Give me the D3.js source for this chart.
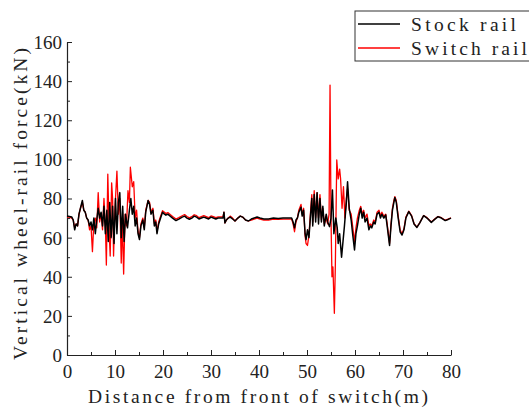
<!DOCTYPE html>
<html>
<head>
<meta charset="utf-8">
<script src="https://cdn.jsdelivr.net/npm/d3@7"></script>
<style>
  body { margin: 0; background: #fff; }
</style>
</head>
<body>
<svg width="529" height="407"></svg>
<script>
// distance (m), force (kN)
const stockRail = [
  [0,71],[0.5,70.8],[1,70.5],[1.3,69],[1.6,64],[1.9,67],[2.2,66],[2.5,72],[2.8,75],[3.2,79],
  [3.5,74],[3.8,73],[4.1,70],[4.4,69],[4.7,66],[5,68],[5.3,64],[5.6,70],[5.9,62],[6.2,69],
  [6.5,75],[6.8,70],[7.1,73],[7.4,66],[7.7,76],[8,62],[8.3,74],[8.6,58],[8.9,78],[9.2,60],
  [9.5,76],[9.8,57],[10.1,80],[10.4,62],[10.7,78],[11,83],[11.3,60],[11.6,76],[11.9,58],[12.2,72],
  [12.6,65],[13,74],[13.3,80],[13.6,72],[13.9,76],[14.2,66],[14.5,70],[14.8,62],[15.1,59],[15.4,66],
  [15.8,69],[16.1,64],[16.4,73],[16.9,79],[17.2,77],[17.5,72],[17.9,74],[18.2,66],[18.5,68],[18.75,62],
  [19.1,67],[19.5,70],[19.9,73],[20.3,72],[20.6,71.5],[21,72],[21.5,71],[22,70],[22.7,68.7],[23.3,69.5],
  [24,70.5],[24.5,71],[25,70],[25.5,69.4],[26,70],[26.5,71],[27,70.5],[27.5,69.5],[28,70],[28.5,70.5],
  [29,70],[29.5,69.5],[30,70.5],[30.5,70],[31,69.5],[31.5,70],[32,70],[32.5,70],[32.7,73],[32.9,67.5],
  [33.2,69],[33.6,70],[34,70.5],[34.5,69.5],[35,68.5],[35.6,70],[36.1,71],[36.6,70.5],[37.2,69],[37.8,68.5],
  [38.4,69.5],[39,70],[39.6,70.5],[40.2,70],[41,69.5],[42,69.5],[43,70],[44,69.8],[45,70],[46,70],
  [46.8,70],[47.1,68],[47.4,65],[47.7,69],[48,70],[48.3,73],[48.75,75.5],[49,71],[49.3,74],[49.6,62],
  [49.8,59],[50.1,64],[50.4,60],[50.7,70],[51,80],[51.2,66],[51.5,82],[51.8,68],[52.1,83],[52.4,67],
  [52.7,80],[53,68],[53.3,76],[53.6,66],[54,72],[54.3,68],[54.7,65.6],[55,70],[55.3,84.4],[55.6,62],
  [56,70],[56.3,65],[56.5,57],[56.8,62],[57.2,50],[57.5,58],[57.8,66],[58.2,78],[58.45,88.5],[58.8,75],
  [59.2,69],[59.5,62],[59.9,53.7],[60.2,62],[60.5,66],[60.9,72],[61.2,75],[61.5,70],[61.8,73],[62.1,68],
  [62.5,70],[62.9,64],[63.2,66],[63.5,65],[63.9,68],[64.2,67],[64.6,72],[65,73],[65.3,70],[65.6,72],
  [66,70],[66.4,71.6],[66.7,66],[67,60],[67.2,56],[67.5,66],[67.8,74],[68.1,78],[68.3,80.5],[68.6,78],
  [69,70],[69.4,63],[69.8,61.3],[70.2,64],[70.6,70],[71.2,73.3],[71.8,71],[72.3,67],[72.9,65.2],[73.5,67.5],
  [74.3,71.2],[75,70],[75.9,67.8],[76.6,69.3],[77.3,70.7],[78,70],[78.8,68.7],[79.4,69.3],[80,70]
];

const switchRail = [
  [0,70.5],[0.5,70.5],[1,70],[1.3,69],[1.6,65],[1.9,67],[2.2,66],[2.5,72],[2.8,75],[3.2,78],
  [3.5,74],[3.8,73],[4.1,70],[4.4,69],[4.7,64],[5,66],[5.3,52.8],[5.6,68],[5.9,70],[6.2,65],
  [6.5,83],[6.8,68],[7.1,72],[7.4,64],[7.7,80],[8,66],[8.2,46],[8.5,92.5],[8.8,62],[9,50.6],
  [9.3,88],[9.5,80],[9.7,50.6],[10,75],[10.4,94],[10.7,72],[11,80],[11.3,47],[11.5,70],[11.8,41.4],
  [12.1,72],[12.4,66],[12.7,84],[13,78],[13.2,96],[13.6,86],[13.9,88.6],[14.2,70],[14.5,74],[14.8,63],
  [15.1,60],[15.4,67],[15.8,70],[16.1,65],[16.4,74],[16.9,79],[17.2,78],[17.5,73],[17.9,75],[18.2,67],
  [18.5,69],[18.75,63],[19.1,68],[19.5,71],[19.9,73.8],[20.3,73],[20.6,72.3],[21,72.8],[21.5,71.8],[22,70.8],
  [22.7,69.5],[23.3,70.2],[24,71.2],[24.5,71.8],[25,70.8],[25.5,70.1],[26,70.7],[26.5,71.7],[27,71.2],[27.5,70.2],
  [28,70.7],[28.5,71.2],[29,70.7],[29.5,70.2],[30,71.1],[30.5,70.7],[31,70.2],[31.5,70.6],[32,70.6],[32.5,70.6],
  [32.7,73],[32.9,67.5],[33.2,69],[33.6,70],[34,71],[34.5,70],[35,68.5],[35.6,70],[36.1,71],[36.6,70.5],
  [37.2,69],[37.8,68.5],[38.4,69],[39,69.5],[39.6,70],[40.2,69.5],[41,69],[42,69],[43,69.5],[44,69.3],
  [45,69.5],[46,69.5],[46.8,69.5],[47.1,67],[47.4,63],[47.7,68],[48,70],[48.3,74],[48.75,77],[49,72],
  [49.3,75],[49.6,61],[49.8,57],[50.1,56],[50.4,61],[50.7,72],[51,82],[51.2,68],[51.5,84],[51.8,70],
  [52.1,83],[52.4,70],[52.7,82],[53,69],[53.3,75],[53.6,67],[54,70],[54.3,67],[54.6,72],[54.8,138],
  [55,70],[55.2,40],[55.4,45],[55.7,21.3],[55.9,45],[56.2,99.7],[56.5,90],[56.8,95],[57,90],[57.3,75],
  [57.6,86],[57.9,70],[58.2,80],[58.45,85],[58.8,74],[59.2,72],[59.5,66],[59.9,58],[60.2,65],[60.5,70],
  [60.9,74],[61.2,76],[61.5,72],[61.8,74],[62.1,70],[62.5,72],[62.9,66],[63.2,67],[63.5,66],[63.9,69],
  [64.2,68],[64.6,73],[65,74],[65.3,71],[65.6,73],[66,71],[66.4,72],[66.7,67],[67,61],[67.2,57],
  [67.5,67],[67.8,75],[68.1,79],[68.3,81],[68.6,79],[69,71],[69.4,64],[69.8,62],[70.2,64.5],[70.6,70.5],
  [71.2,73.5],[71.8,71.2],[72.3,67.2],[72.9,65.4],[73.5,67.7],[74.3,71.3],[75,70.2],[75.9,68],[76.6,69.5],[77.3,70.8],
  [78,70.2],[78.8,68.9],[79.4,69.5],[80,70.1]
];

const seriesNames = ["Stock rail", "Switch rail"];
const seriesColors = ["#000000", "#ff0000"];
const xTicks = [0, 10, 20, 30, 40, 50, 60, 70, 80];
const yTicks = [0, 20, 40, 60, 80, 100, 120, 140, 160];

const serifFont = '"Liberation Serif", "Times New Roman", serif';
const margin = { left: 67, right: 78, top: 42, bottom: 52 };
const svg = d3.select('svg');
const width = +svg.attr('width');
const height = +svg.attr('height');

const xScale = d3.scaleLinear().domain([0, 80]).range([margin.left, width - margin.right]);
const yScale = d3.scaleLinear().domain([0, 160]).range([height - margin.bottom, margin.top]);

const line = d3.line().x(d => xScale(d[0])).y(d => yScale(d[1]));

// minor ticks
svg.append('g')
  .attr('transform', `translate(0, ${yScale(0)})`)
  .call(d3.axisTop(xScale).tickValues(d3.range(5, 80, 10)).tickSize(3).tickFormat(''))
  .call(g => g.select('.domain').remove())
  .selectAll('line').attr('stroke', '#222');

svg.append('g')
  .attr('transform', `translate(${xScale(0)}, 0)`)
  .call(d3.axisRight(yScale).tickValues(d3.range(10, 160, 20)).tickSize(3).tickFormat(''))
  .call(g => g.select('.domain').remove())
  .selectAll('line').attr('stroke', '#222');

// X axis (ticks inward)
const xAxisG = svg.append('g')
  .attr('transform', `translate(0, ${yScale(0)})`)
  .call(d3.axisBottom(xScale).tickValues(xTicks).tickSizeInner(-5).tickSizeOuter(0));
xAxisG.select('.domain').attr('stroke', '#222').attr('stroke-width', 1.2);
xAxisG.selectAll('line').attr('stroke', '#222');
xAxisG.selectAll('text')
  .attr('y', 23).attr('dy', null)
  .attr('font-family', serifFont).attr('font-size', 19).attr('fill', '#222');

// Y axis
const yAxisG = svg.append('g')
  .attr('transform', `translate(${xScale(0)}, 0)`)
  .call(d3.axisLeft(yScale).tickValues(yTicks).tickSizeInner(-5).tickSizeOuter(0));
yAxisG.select('.domain').attr('stroke', '#222').attr('stroke-width', 1.2);
yAxisG.selectAll('line').attr('stroke', '#222');
yAxisG.selectAll('text')
  .attr('x', -5).attr('dy', '0.34em')
  .attr('font-family', serifFont).attr('font-size', 19).attr('fill', '#222');

// series: switch rail underneath, stock rail on top
svg.append('path')
  .datum(switchRail)
  .attr('fill', 'none')
  .attr('stroke', seriesColors[1])
  .attr('stroke-width', 1.3)
  .attr('stroke-linejoin', 'round')
  .attr('d', line);

svg.append('path')
  .datum(stockRail)
  .attr('fill', 'none')
  .attr('stroke', seriesColors[0])
  .attr('stroke-width', 1.5)
  .attr('stroke-linejoin', 'round')
  .attr('d', line);

// axis titles (spaced out like the original wide font)
svg.append('text')
  .attr('x', 88)
  .attr('y', 403)
  .attr('font-family', serifFont)
  .attr('font-size', 19.5)
  .attr('fill', '#222')
  .attr('textLength', 340)
  .attr('lengthAdjust', 'spacing')
  .text('Distance from front of switch(m)');

svg.append('text')
  .attr('transform', 'translate(27, 360) rotate(-90)')
  .attr('font-family', serifFont)
  .attr('font-size', 19.5)
  .attr('fill', '#222')
  .attr('textLength', 312)
  .attr('lengthAdjust', 'spacing')
  .text('Vertical wheel-rail force(kN)');

// legend
const legend = svg.append('g').attr('transform', 'translate(355, 11)');
legend.append('rect')
  .attr('x', 0).attr('y', 0)
  .attr('width', 180).attr('height', 50)
  .attr('fill', '#fff')
  .attr('stroke', '#333')
  .attr('stroke-width', 1);

const legendWidths = [105, 116];
seriesNames.forEach((name, i) => {
  const gy = 13 + i * 24;
  legend.append('line')
    .attr('x1', 3).attr('x2', 45)
    .attr('y1', gy).attr('y2', gy)
    .attr('stroke', seriesColors[i])
    .attr('stroke-width', 1.5);
  legend.append('text')
    .attr('x', 56)
    .attr('y', gy + 7)
    .attr('font-family', serifFont)
    .attr('font-size', 19.5)
    .attr('fill', '#222')
    .attr('textLength', legendWidths[i])
    .attr('lengthAdjust', 'spacing')
    .text(name);
});
</script>
</body>
</html>
